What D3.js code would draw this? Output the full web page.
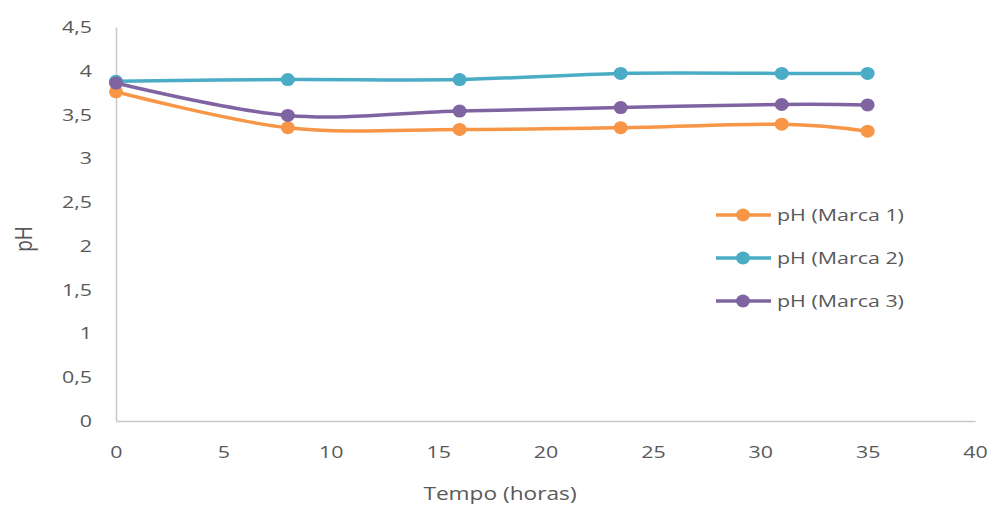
<!DOCTYPE html>
<html>
<head>
<meta charset="utf-8">
<script src="https://cdn.jsdelivr.net/npm/d3@7"></script>
<style>
  html, body { margin: 0; padding: 0; background: #fff; }
  svg { display: block; }
  text { font-family: "Open Sans", "Noto Sans", sans-serif; fill: #595959; }
</style>
</head>
<body>
<svg id="chart" width="991" height="505"></svg>
<script>
// Time points (hours)
const tempo = [0, 8, 16, 23.5, 31, 35];

// pH readings per brand
const phMarca1 = [3.76, 3.35, 3.33, 3.35, 3.39, 3.31];
const phMarca2 = [3.88, 3.90, 3.90, 3.97, 3.97, 3.97];
const phMarca3 = [3.86, 3.49, 3.54, 3.58, 3.615, 3.61];

const seriesNames = ["pH (Marca 1)", "pH (Marca 2)", "pH (Marca 3)"];
const seriesColors = ["#F79646", "#4BACC6", "#8064A2"];

const xTicks = [0, 5, 10, 15, 20, 25, 30, 35, 40];
const yTicks = [0, 0.5, 1, 1.5, 2, 2.5, 3, 3.5, 4, 4.5];

const series = [phMarca1, phMarca2, phMarca3].map((vals, i) => ({
  name: seriesNames[i],
  color: seriesColors[i],
  points: vals.map((v, j) => ({ x: tempo[j], y: v }))
}));

const svg = d3.select("#chart");
const plotLeft = 116, plotRight = 975, plotTop = 27, plotBottom = 421;
const stretch = 1.26;   // wide text rendering

const x = d3.scaleLinear().domain([0, 40]).range([plotLeft, plotRight]);
const y = d3.scaleLinear().domain([0, 4.5]).range([plotBottom, plotTop]);

const fmt = d => d3.format("")(d).replace(".", ",");

// X axis
const xAxis = svg.append("g")
  .attr("transform", `translate(0,${plotBottom})`)
  .call(d3.axisBottom(x).tickValues(xTicks).tickSize(0).tickPadding(25).tickFormat(fmt));
xAxis.select(".domain").attr("stroke", "#C8C8C8").attr("stroke-width", 1.5);
xAxis.selectAll("text")
  .attr("font-size", 17).attr("fill", "#595959")
  .attr("font-family", "'Open Sans', sans-serif")
  .attr("transform", `scale(${stretch},1)`);

// Y axis
const yPad = 24;
const yAxis = svg.append("g")
  .attr("transform", `translate(${plotLeft},0)`)
  .call(d3.axisLeft(y).tickValues(yTicks).tickSize(0).tickPadding(yPad).tickFormat(fmt));
yAxis.select(".domain").attr("stroke", "#C8C8C8").attr("stroke-width", 1.5);
yAxis.selectAll("text")
  .attr("font-size", 17).attr("fill", "#595959")
  .attr("font-family", "'Open Sans', sans-serif")
  .attr("x", 0)
  .attr("transform", `translate(${-yPad},0) scale(${stretch},1)`);

// Axis titles
svg.append("text")
  .attr("transform", `translate(500,500) scale(${stretch},1)`)
  .attr("text-anchor", "middle")
  .attr("font-size", 18)
  .text("Tempo  (horas)");

svg.append("text")
  .attr("transform", `translate(32,239) scale(${stretch},1) rotate(-90)`)
  .attr("text-anchor", "middle")
  .attr("font-size", 19)
  .text("pH");

// Smoothed lines
const line = d3.line()
  .x(d => x(d.x))
  .y(d => y(d.y))
  .curve(d3.curveCatmullRom.alpha(0));

const g = svg.append("g");
series.forEach(s => {
  g.append("path")
    .datum(s.points)
    .attr("fill", "none")
    .attr("stroke", s.color)
    .attr("stroke-width", 3.5)
    .attr("stroke-linejoin", "round")
    .attr("d", line);
});
series.forEach(s => {
  g.selectAll(null)
    .data(s.points)
    .enter().append("ellipse")
    .attr("cx", d => x(d.x))
    .attr("cy", d => y(d.y))
    .attr("rx", 7).attr("ry", 6.5)
    .attr("fill", s.color);
});

// Legend
const legend = svg.append("g").attr("transform", "translate(716,215)");
series.forEach((s, i) => {
  const row = legend.append("g").attr("transform", `translate(0,${i * 43})`);
  row.append("line")
    .attr("x1", 0).attr("x2", 55)
    .attr("y1", 0).attr("y2", 0)
    .attr("stroke", s.color).attr("stroke-width", 3.5);
  row.append("ellipse").attr("cx", 27).attr("cy", 0).attr("rx", 7).attr("ry", 6.5).attr("fill", s.color);
  row.append("text")
    .attr("transform", `translate(61,0) scale(${stretch},1)`)
    .attr("dy", "0.35em")
    .attr("font-size", 17)
    .text(s.name);
});
</script>
</body>
</html>
